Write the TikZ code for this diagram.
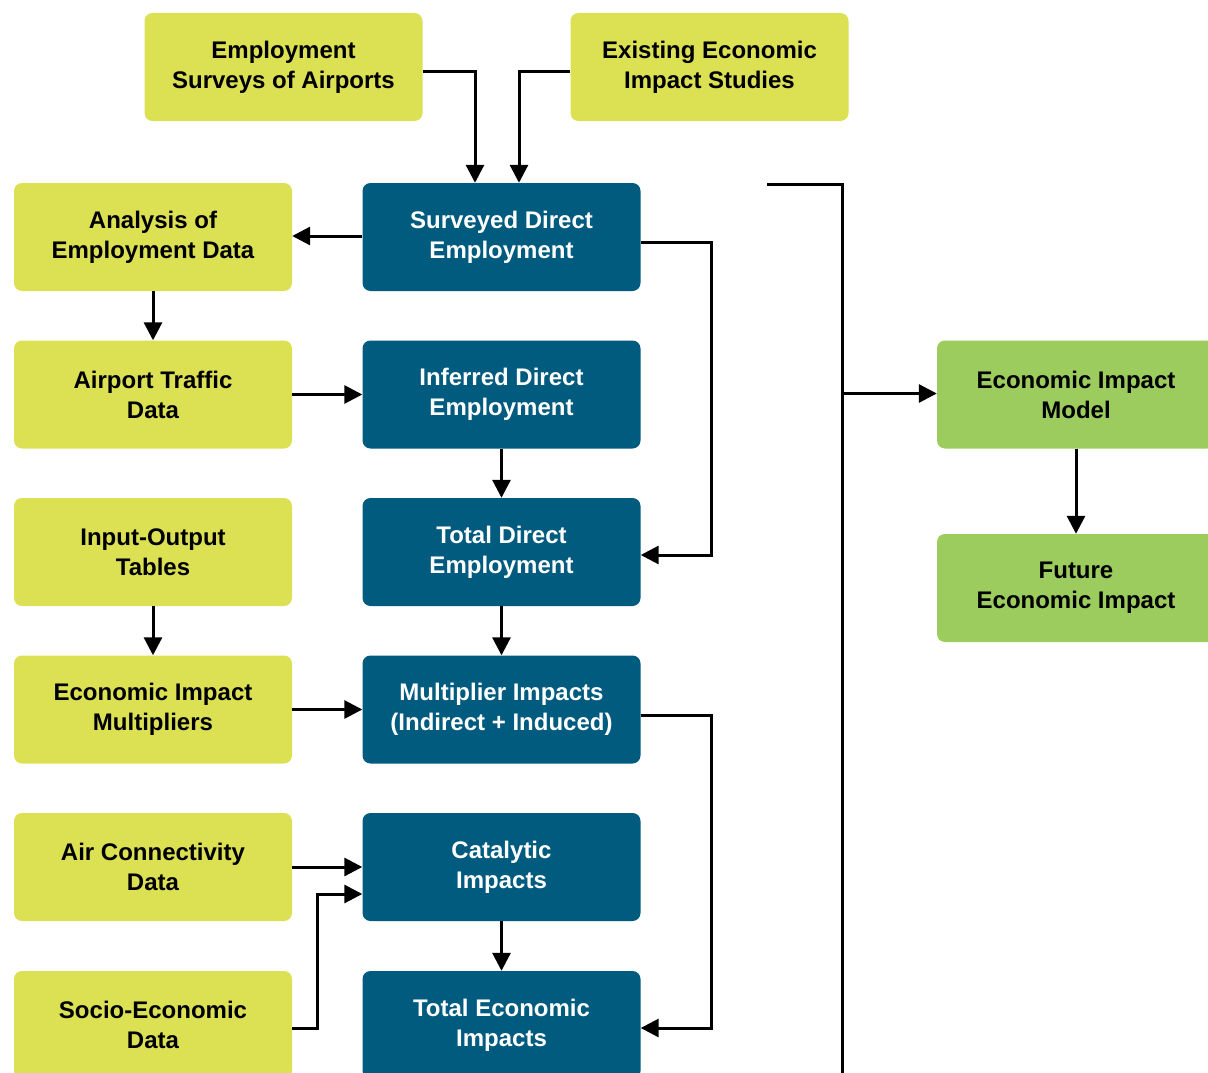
\documentclass[tikz,border=0pt]{standalone}
\usepackage{fontspec}
\setmainfont{Liberation Sans}
\usetikzlibrary{arrows.meta}
\definecolor{ylw}{HTML}{DCE053}
\definecolor{blu}{HTML}{005B7F}
\definecolor{grn}{HTML}{9CCB5E}
\tikzset{
  box/.style={rounded corners=8pt, minimum width=278pt, minimum height=108pt, inner sep=0pt, align=center,
    font=\fontsize{24}{30}\selectfont\bfseries},
  ybox/.style={box, fill=ylw, text=black},
  bbox/.style={box, fill=blu, text=white},
  gbox/.style={box, fill=grn, text=black},
  conn/.style={line width=3pt, -{Triangle[length=18pt,width=18pt]}},
  plain/.style={line width=3pt}
}
\begin{document}
\begin{tikzpicture}[x=1pt,y=-1pt]
\useasboundingbox (0,0) rectangle (1208,1073);
\clip (0,0) rectangle (1208,1073);
% top
\node[ybox] (es) at (283.5,67) {Employment\\Surveys of Airports};
\node[ybox] (eeis) at (709.5,67) {Existing Economic\\Impact Studies};
% left column
\node[ybox] (aed) at (153,237) {Analysis of\\Employment Data};
\node[ybox] (atd) at (153,394.5) {Airport Traffic\\Data};
\node[ybox] (iot) at (153,552) {Input-Output\\Tables};
\node[ybox] (eim) at (153,709.5) {Economic Impact\\Multipliers};
\node[ybox] (acd) at (153,867) {Air Connectivity\\Data};
\node[ybox] (sed) at (153,1025) {Socio-Economic\\Data};
% blue column
\node[bbox] (sde) at (501.5,237) {Surveyed Direct\\Employment};
\node[bbox] (ide) at (501.5,394.5) {Inferred Direct\\Employment};
\node[bbox] (tde) at (501.5,552) {Total Direct\\Employment};
\node[bbox] (mi) at (501.5,709.5) {Multiplier Impacts\\(Indirect + Induced)};
\node[bbox] (ci) at (501.5,867) {Catalytic\\Impacts};
\node[bbox] (tei) at (501.5,1025) {Total Economic\\Impacts};
% green
\node[gbox] (eimod) at (1076,394.5) {Economic Impact\\Model};
\node[gbox] (fei) at (1076,588) {Future\\Economic Impact};
% bracket
\coordinate (bt0) at (767,184);
\coordinate (bt1) at (842,184);
\coordinate (bt2) at (842,1080);
\coordinate (bj) at (842,393.5);
\draw[plain] (bt0) -- (bt1) -- (bt2);
\draw[conn] (bj) -- (eimod.west |- bj);
% connectors
\draw[conn] ([yshift=-5pt]es.east) -| ([xshift=-26.5pt]sde.north);
\draw[conn] ([yshift=-5pt]eeis.west) -| ([xshift=17.5pt]sde.north);
\draw[conn] ([yshift=1pt]sde.west) -- ([yshift=1pt]aed.east);
\draw[conn] (aed.south) -- (atd.north);
\draw[conn] (atd.east) -- (ide.west);
\draw[conn] (ide.south) -- (tde.north);
\draw[conn] ([yshift=-5pt]sde.east) -- ++(71,0) |- ([yshift=-3pt]tde.east);
\draw[conn] (iot.south) -- (eim.north);
\draw[conn] (tde.south) -- (mi.north);
\draw[conn] (eim.east) -- (mi.west);
\draw[conn] ([yshift=-6pt]mi.east) -- ++(71,0) |- ([yshift=-3pt]tei.east);
\draw[conn] (acd.east) -- (ci.west);
\draw[conn] ([yshift=-3pt]sed.east) -- ++(25,0) |- ([yshift=-27pt]ci.west);
\draw[conn] (ci.south) -- (tei.north);
\draw[conn] (eimod.south) -- (fei.north);
\end{tikzpicture}
\end{document}
